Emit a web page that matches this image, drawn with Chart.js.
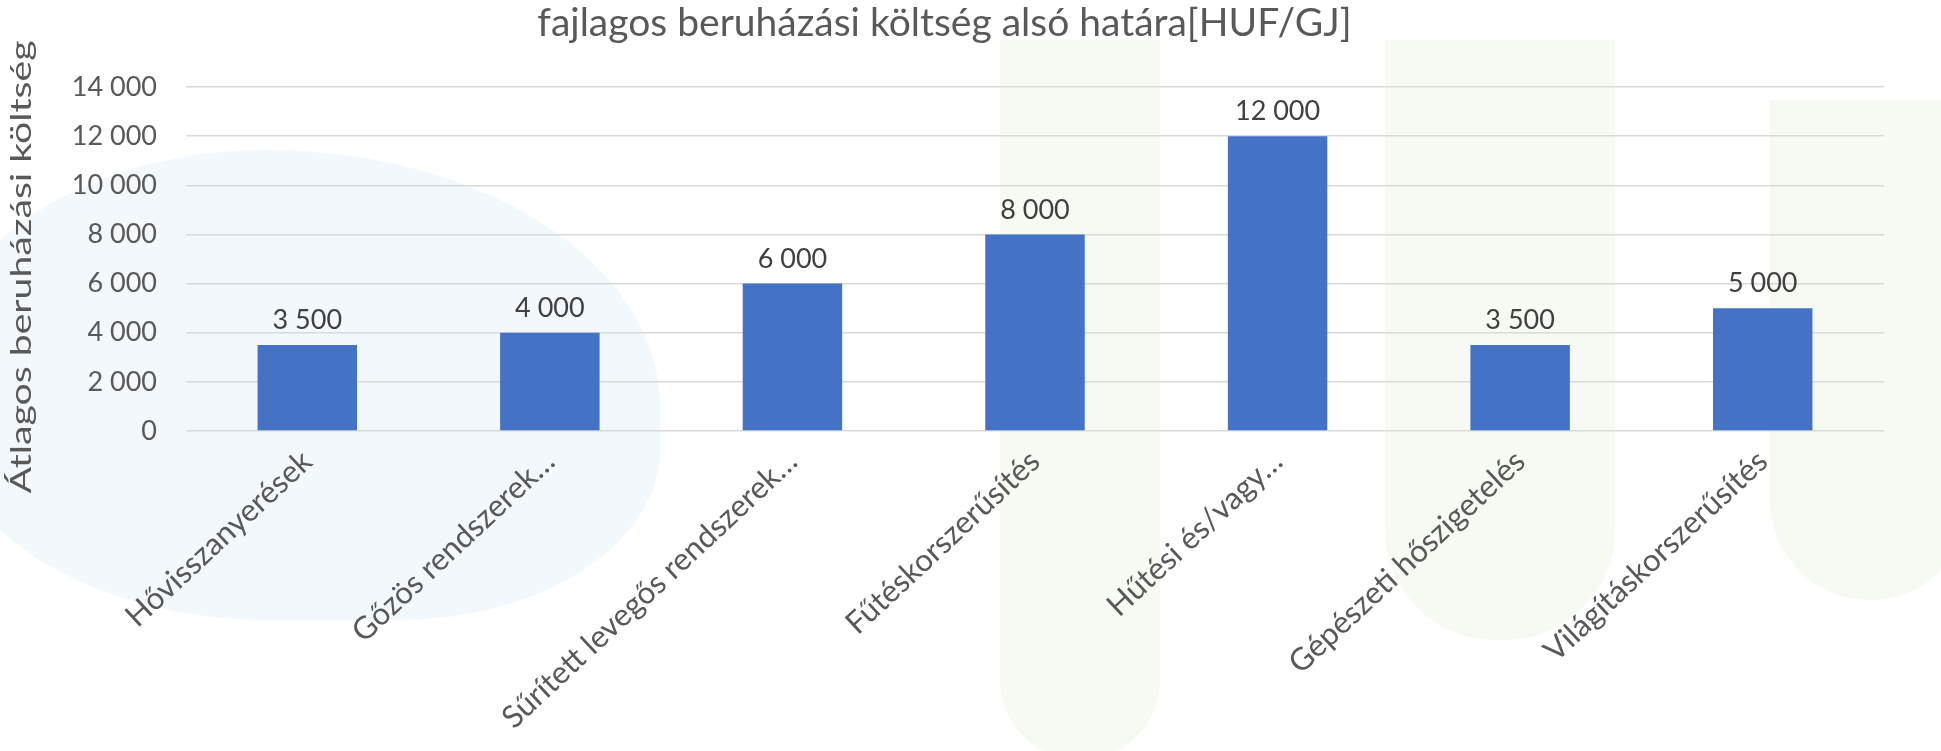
<!DOCTYPE html>
<html>
<head>
<meta charset="utf-8">
<script src="https://cdn.jsdelivr.net/npm/chart.js@4"></script>
<style>
  html, body { margin: 0; padding: 0; background: #fff; }
  #wrap { position: relative; width: 1941px; height: 751px; overflow: hidden; }
  .wm { position: absolute; }
  canvas { position: absolute; left: 0; top: 0; }
</style>
</head>
<body>
<div id="wrap">
  <div class="wm" style="left:-60px;top:150px;width:720px;height:470px;background:rgba(225,238,248,0.4);border-radius:50% 60% 40% 50%;"></div>
  <div class="wm" style="left:1000px;top:40px;width:160px;height:720px;background:rgba(238,246,232,0.5);border-radius:0 0 80px 80px;"></div>
  <div class="wm" style="left:1385px;top:40px;width:230px;height:600px;background:rgba(238,246,232,0.5);border-radius:0 0 110px 110px;"></div>
  <div class="wm" style="left:1770px;top:100px;width:200px;height:500px;background:rgba(238,246,232,0.5);border-radius:0 0 100px 100px;"></div>
  <canvas id="chart" width="1941" height="751"></canvas>
</div>
<script>
const categories = [
  "Hővisszanyerések",
  "Gőzös rendszerek…",
  "Sűrített levegős rendszerek…",
  "Fűtéskorszerűsítés",
  "Hűtési és/vagy…",
  "Gépészeti hőszigetelés",
  "Világításkorszerűsítés"
];
const values = [3500, 4000, 6000, 8000, 12000, 3500, 5000];
const yMin = 0;
const yMax = 14000;
const yStep = 2000;

const chartTitle = "fajlagos beruházási költség alsó határa[HUF/GJ]";
const yTitle = "Átlagos beruházási költség";

const fontFamily = "Lato, 'Open Sans', sans-serif";
const textColor = "#595959";

function fmt(v) {
  return String(v).replace(/\B(?=(\d{3})+(?!\d))/g, " ");
}

// value labels above bars, plus title and (stretched) y axis title
const extraText = {
  id: "extraText",
  afterDraw(chart) {
    const ctx = chart.ctx;
    const meta = chart.getDatasetMeta(0);
    const area = chart.chartArea;
    ctx.save();
    ctx.font = "27px " + fontFamily;
    ctx.fillStyle = "#404040";
    ctx.textAlign = "center";
    ctx.textBaseline = "bottom";
    meta.data.forEach((bar, i) => {
      ctx.fillText(fmt(values[i]), bar.x, bar.y - 11);
    });

    ctx.font = "39px " + fontFamily;
    ctx.fillStyle = textColor;
    ctx.textBaseline = "middle";
    ctx.fillText(chartTitle, chart.width / 2 - 26, 23);

    ctx.translate(22, (area.top + area.bottom) / 2 + 8);
    ctx.rotate(-Math.PI / 2);
    ctx.scale(1.35, 1);
    ctx.font = "29px " + fontFamily;
    ctx.fillText(yTitle, 0, 0);
    ctx.restore();
  }
};

new Chart(document.getElementById("chart"), {
  type: "bar",
  data: {
    labels: categories,
    datasets: [{
      data: values,
      backgroundColor: "#4472C4",
      barPercentage: 0.41,
      categoryPercentage: 1
    }]
  },
  options: {
    responsive: false,
    animation: false,
    layout: { padding: { left: 4, right: 57, top: 87, bottom: 0 } },
    plugins: {
      legend: { display: false },
      tooltip: { enabled: false },
      title: { display: false }
    },
    scales: {
      x: {
        grid: { display: false },
        border: { display: false },
        ticks: {
          color: textColor,
          font: { family: fontFamily, size: 31 },
          minRotation: 43,
          maxRotation: 43,
          autoSkip: false,
          padding: 4
        },
        afterFit(scale) { scale.height = 320; }
      },
      y: {
        min: yMin,
        max: yMax,
        border: { display: false },
        grid: { color: "#d9d9d9", lineWidth: 1.5, drawTicks: false },
        ticks: {
          stepSize: yStep,
          color: textColor,
          font: { family: fontFamily, size: 27 },
          padding: 29,
          callback: v => fmt(v)
        },
        afterFit(scale) { scale.width = 182; }
      }
    }
  },
  plugins: [extraText]
});
</script>
</body>
</html>
